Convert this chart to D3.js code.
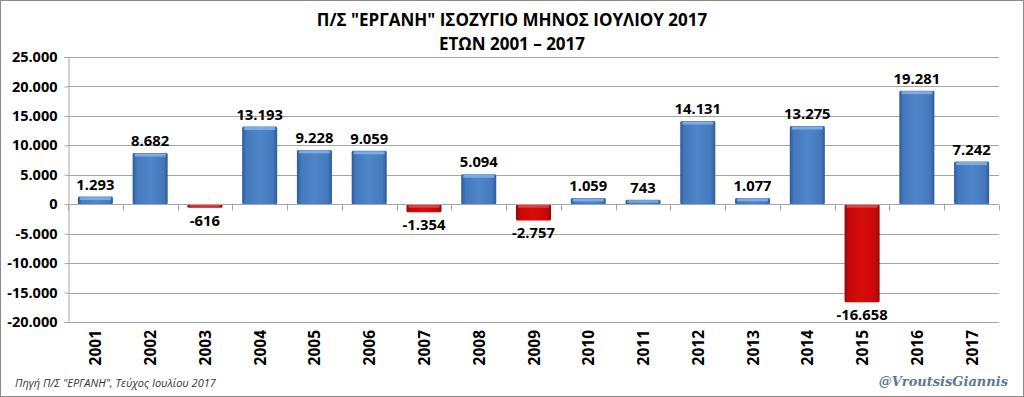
<!DOCTYPE html>
<html>
<head>
<meta charset="utf-8">
<script src="https://cdn.jsdelivr.net/npm/d3@7"></script>
<style>
  html, body { margin: 0; padding: 0; background: #fff; }
  svg { display: block; }
</style>
</head>
<body>
<svg id="chart" width="1024" height="397"></svg>
<script>
const YEARS = ['2001','2002','2003','2004','2005','2006','2007','2008','2009',
               '2010','2011','2012','2013','2014','2015','2016','2017'];
const BALANCE = [1293, 8682, -616, 13193, 9228, 9059, -1354, 5094, -2757,
                 1059, 743, 14131, 1077, 13275, -16658, 19281, 7242];
const Y_TICKS = [25000, 20000, 15000, 10000, 5000, 0, -5000, -10000, -15000, -20000];
const TITLE = ['Π/Σ "ΕΡΓΑΝΗ" ΙΣΟΖΥΓΙΟ ΜΗΝΟΣ ΙΟΥΛΙΟΥ 2017', 'ΕΤΩΝ 2001 – 2017'];
const SOURCE = 'Πηγή Π/Σ "ΕΡΓΑΝΗ", Τεύχος Ιουλίου 2017';
const HANDLE = '@VroutsisGiannis';

const W = 1024, H = 397;
const m = { top: 57, right: 25, bottom: 75, left: 68 };
const FONT = '"Open Sans", "DejaVu Sans", sans-serif';

// αριθμοί με τελεία για χιλιάδες
const fmt = v => (v < 0 ? '-' : '') + d3.format(',')(Math.abs(v)).replace(/,/g, '.');

const svg = d3.select('#chart');

// πλαίσιο εικόνας
svg.append('rect')
  .attr('x', 0.5).attr('y', 0.5).attr('width', W - 1).attr('height', H - 1)
  .attr('fill', '#fff').attr('stroke', '#8a8a8a').attr('stroke-width', 1);

// gradients για τις μπάρες
const defs = svg.append('defs');
function barGrad(id, edge, mid, center) {
  const g = defs.append('linearGradient').attr('id', id)
    .attr('x1', '0%').attr('x2', '100%').attr('y1', '0%').attr('y2', '0%');
  [[0, edge], [0.12, mid], [0.5, center], [0.88, mid], [1, edge]].forEach(([o, c]) =>
    g.append('stop').attr('offset', o).attr('stop-color', c));
}
barGrad('gBlue', '#2c5c9a', '#4479bd', '#4f86c8');
barGrad('gRed', '#8e0a0a', '#c80808', '#d80c0c');

const x = d3.scaleBand()
  .domain(YEARS)
  .range([m.left, W - m.right])
  .paddingInner(0.36).paddingOuter(0.18);

const y = d3.scaleLinear()
  .domain([-20000, 25000])
  .range([H - m.bottom, m.top]);

// οριζόντιες γραμμές πλέγματος
svg.append('g')
  .selectAll('line').data(Y_TICKS).join('line')
  .attr('x1', m.left).attr('x2', W - m.right)
  .attr('y1', d => Math.round(y(d)) + 0.5).attr('y2', d => Math.round(y(d)) + 0.5)
  .attr('stroke', '#a6a6a6').attr('stroke-width', 1);

// άξονας Y
const yAxis = svg.append('g')
  .attr('transform', `translate(${m.left + 0.5},0)`)
  .call(d3.axisLeft(y).tickValues(Y_TICKS).tickFormat(fmt).tickSize(4).tickPadding(7));
yAxis.select('.domain').attr('stroke', '#a6a6a6');
yAxis.selectAll('.tick line').attr('stroke', '#a6a6a6');
yAxis.selectAll('text')
  .attr('font-family', FONT).attr('font-size', 14.5).attr('font-weight', 'bold')
  .attr('fill', '#000');

// γραμμή μηδέν με υποδιαιρέσεις κατηγοριών
const y0 = Math.round(y(0)) + 0.5;
const bounds = d3.range(YEARS.length + 1).map(i => m.left + i * (W - m.right - m.left) / YEARS.length);
svg.append('g')
  .selectAll('line').data(bounds).join('line')
  .attr('x1', d => Math.round(d) + 0.5).attr('x2', d => Math.round(d) + 0.5)
  .attr('y1', y0).attr('y2', y0 + 6)
  .attr('stroke', '#a6a6a6');

// μπάρες
const bars = svg.append('g').selectAll('g').data(YEARS.map((yr, i) => ({ yr, v: BALANCE[i] })))
  .join('g');

bars.append('rect')
  .attr('x', d => x(d.yr))
  .attr('width', x.bandwidth())
  .attr('y', d => y(Math.max(0, d.v)))
  .attr('height', d => Math.abs(y(d.v) - y(0)))
  .attr('rx', 1.5)
  .attr('fill', d => d.v >= 0 ? 'url(#gBlue)' : 'url(#gRed)');

// φωτεινή ακμή πάνω
bars.append('rect')
  .attr('x', d => x(d.yr) + 2)
  .attr('width', x.bandwidth() - 4)
  .attr('y', d => y(Math.max(0, d.v)) + 0.5)
  .attr('height', d => Math.min(3, Math.abs(y(d.v) - y(0)) / 2))
  .attr('fill', d => d.v >= 0 ? '#8ab6ea' : '#f04a4a')
  .attr('opacity', 0.8);

svg.append('line')
  .attr('x1', m.left).attr('x2', W - m.right)
  .attr('y1', y0).attr('y2', y0)
  .attr('stroke', '#a6a6a6');

// ετικέτες τιμών
bars.append('text')
  .attr('x', d => x(d.yr) + x.bandwidth() / 2)
  .attr('y', d => d.v >= 0 ? y(d.v) - 7 : y(d.v) + 18)
  .attr('text-anchor', 'middle')
  .attr('font-family', FONT).attr('font-size', 14.8).attr('font-weight', 'bold')
  .attr('fill', '#000')
  .text(d => fmt(d.v));

// έτη (κάθετα)
svg.append('g').selectAll('text').data(YEARS).join('text')
  .attr('transform', d => `translate(${x(d) + x.bandwidth() / 2 + 6},${H - m.bottom + 8}) rotate(-90)`)
  .attr('text-anchor', 'end')
  .attr('font-family', FONT).attr('font-size', 15.5).attr('font-weight', 'bold')
  .attr('fill', '#000')
  .text(d => d);

// τίτλος
svg.append('g').selectAll('text').data(TITLE).join('text')
  .attr('x', 512).attr('y', (d, i) => 26 + i * 24)
  .attr('text-anchor', 'middle')
  .attr('font-family', FONT).attr('font-size', 17).attr('font-weight', 'bold')
  .attr('fill', '#000')
  .text(d => d);

// πηγή
svg.append('text')
  .attr('x', 15).attr('y', 387)
  .attr('font-family', FONT).attr('font-size', 11).attr('font-style', 'italic')
  .attr('fill', '#333')
  .text(SOURCE);

svg.append('text')
  .attr('x', 1008).attr('y', 386)
  .attr('text-anchor', 'end')
  .attr('font-family', '"DejaVu Serif", "Liberation Serif", serif')
  .attr('font-size', 13).attr('font-weight', 'bold').attr('font-style', 'italic')
  .attr('fill', '#5a7899')
  .text(HANDLE);
</script>
</body>
</html>
